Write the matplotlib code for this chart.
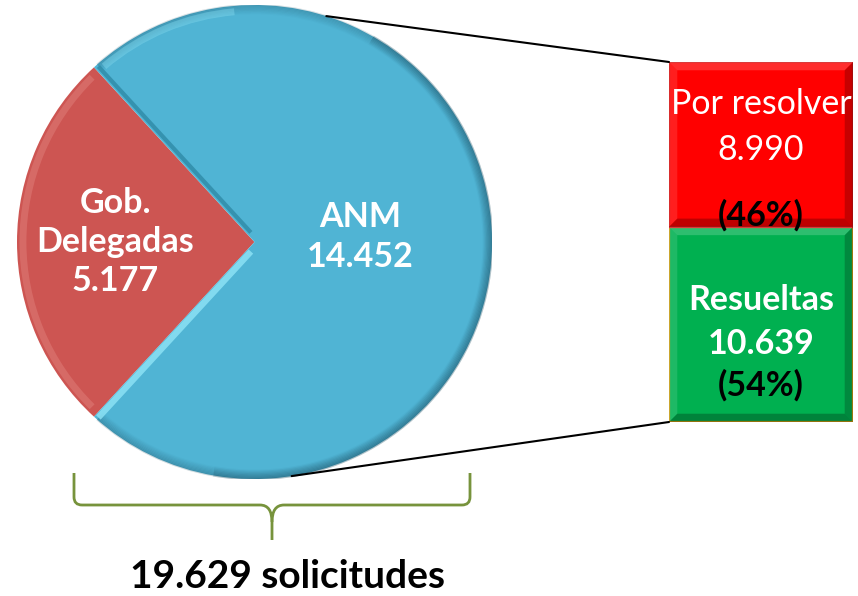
import numpy as np
import matplotlib
matplotlib.use("Agg")
import matplotlib.pyplot as plt
from matplotlib.patches import Arc, PathPatch, ConnectionPatch, Polygon
from matplotlib.path import Path

# ---------------- data ----------------
pie_labels = ["Gob.\nDelegadas", "ANM"]
pie_values = [5177, 14452]
pie_texts = ["5.177", "14.452"]

bar_labels = ["Resueltas", "Por resolver"]
bar_values = [10639, 8990]
bar_texts = ["10.639", "8.990"]
bar_pcts = ["(54%)", "(46%)"]

total_label = "19.629 solicitudes"

# ---------------- style ----------------
plt.rcParams["font.family"] = ["Lato", "DejaVu Sans"]
pie_colors = ["#CD5552", "#50B4D4"]
bar_colors = ["#00B050", "#FF0000"]
bar_edges = ["#C39A12", "#D41010"]
brace_color = "#77933C"

W, H = 858, 596
fig = plt.figure(figsize=(W / 100, H / 100), dpi=100)
fig.patch.set_facecolor("white")


def fr(l, t, r, b):
    return [l / W, 1 - b / H, (r - l) / W, (b - t) / H]


# overlay axes in pixel coords (brace + total label)
ax_bg = fig.add_axes([0, 0, 1, 1])
ax_bg.set_xlim(0, W)
ax_bg.set_ylim(H, 0)
ax_bg.axis("off")

# ---------------- pie ----------------
ax_pie = fig.add_axes(fr(17, 5, 492, 479))
tot = sum(pie_values)
start = 180 - pie_values[0] / tot * 180
wedges, _ = ax_pie.pie(pie_values, colors=pie_colors, startangle=start,
                       counterclock=True, radius=1,
                       wedgeprops=dict(linewidth=0))
ax_pie.set_xlim(-1, 1)
ax_pie.set_ylim(-1, 1)
ax_pie.set_aspect("auto")
ax_pie.axis("off")

t1, t2 = wedges[0].theta1, wedges[0].theta2  # red wedge angles
# bevel effects on blue slice edges
for ang, col, off, lw in [(t1, "#2F8AA6", -1, 3.0), (t2, "#8FE4F6", 1, 4.5)]:
    a = np.deg2rad(ang)
    n = np.deg2rad(ang + off * 90)
    d = 0.016
    ax_pie.plot([0.04 * np.cos(a) + d * np.cos(n), 0.99 * np.cos(a) + d * np.cos(n)],
                [0.04 * np.sin(a) + d * np.sin(n), 0.99 * np.sin(a) + d * np.sin(n)],
                color=col, lw=lw, solid_capstyle="butt", alpha=0.8)
# outer rim shading
for k in range(8):
    r = 1 - k * 0.005
    ax_pie.add_patch(Arc((0, 0), 2 * r, 2 * r, theta1=-100, theta2=60,
                         color="#1B4F63", lw=1.6, alpha=0.35 * (1 - k / 8)))
    ax_pie.add_patch(Arc((0, 0), 2 * r, 2 * r, theta1=60, theta2=t1 - 1,
                         color="#1B4F63", lw=1.4, alpha=0.18 * (1 - k / 8)))
    ax_pie.add_patch(Arc((0, 0), 2 * r, 2 * r, theta1=t2 + 1, theta2=260,
                         color="#1B4F63", lw=1.4, alpha=0.22 * (1 - k / 8)))
ax_pie.add_patch(Arc((0, 0), 2 * 0.975, 2 * 0.975, theta1=95, theta2=t1 - 2,
                     color="#8FE4F6", lw=5, alpha=0.35))
ax_pie.add_patch(Arc((0, 0), 2 * 0.975, 2 * 0.975, theta1=t1 + 2, theta2=t2 - 2,
                     color="#E58A85", lw=5, alpha=0.4))

ax_pie.text(-0.587, 0.0, pie_labels[0] + "\n" + pie_texts[0], color="white",
            fontsize=24.5, fontweight="bold", ha="center", va="center",
            linespacing=1.28)
ax_pie.text(0.445, 0.02, pie_labels[1] + "\n" + pie_texts[1], color="white",
            fontsize=24.5, fontweight="bold", ha="center", va="center",
            linespacing=1.32)

# ---------------- bar ----------------
ax_bar = fig.add_axes(fr(669, 62, 853, 422))
bottoms = [0, bar_values[0]]
ax_bar.bar([0, 0], bar_values, bottom=bottoms, width=1, color=bar_colors,
           edgecolor=bar_edges, linewidth=1.6, align="center")
ax_bar.set_xlim(-0.5, 0.5)
ax_bar.set_ylim(0, sum(bar_values))
ax_bar.axis("off")

# bevels
bw = 0.045
for b, v in zip(bottoms, bar_values):
    dy = bw * sum(bar_values) * (184 / 360)
    top = b + v
    ax_bar.add_patch(Polygon([(-0.5, top), (0.5, top), (0.5 - bw, top - dy), (-0.5 + bw, top - dy)],
                             closed=True, color="white", alpha=0.18, lw=0))
    ax_bar.add_patch(Polygon([(-0.5, b), (-0.5, top), (-0.5 + bw, top - dy), (-0.5 + bw, b + dy)],
                             closed=True, color="white", alpha=0.12, lw=0))
    ax_bar.add_patch(Polygon([(0.5, b), (0.5, top), (0.5 - bw, top - dy), (0.5 - bw, b + dy)],
                             closed=True, color="black", alpha=0.22, lw=0))
    ax_bar.add_patch(Polygon([(-0.5, b), (0.5, b), (0.5 - bw, b + dy), (-0.5 + bw, b + dy)],
                             closed=True, color="black", alpha=0.25, lw=0))

tr = ax_bar.transAxes
ax_bar.text(0.5, 0.883, bar_labels[1], transform=tr, color="white", fontsize=24.5,
            ha="center", va="center", clip_on=False)
ax_bar.text(0.5, 0.756, bar_texts[1], transform=tr, color="white", fontsize=24.5,
            ha="center", va="center")
ax_bar.text(0.5, 0.575, bar_pcts[1], transform=tr, color="black", fontsize=24.5,
            fontweight="bold", ha="center", va="center")
ax_bar.text(0.5, 0.339, bar_labels[0], transform=tr, color="white", fontsize=24.5,
            fontweight="bold", ha="center", va="center")
ax_bar.text(0.5, 0.217, bar_texts[0], transform=tr, color="white", fontsize=24.5,
            fontweight="bold", ha="center", va="center")
ax_bar.text(0.5, 0.103, bar_pcts[0], transform=tr, color="black", fontsize=24.5,
            fontweight="bold", ha="center", va="center")

# ---------------- connectors ----------------
for ang, yb in [(72.4, sum(bar_values)), (-81.0, 0)]:
    a = np.deg2rad(ang)
    con = ConnectionPatch(xyA=(np.cos(a), np.sin(a)), coordsA=ax_pie.transData,
                          xyB=(-0.5, yb), coordsB=ax_bar.transData,
                          color="black", lw=1.5)
    fig.add_artist(con)

# ---------------- brace ----------------
cx = 272
left = [(74, 473), (74, 497), (74, 505), (82, 505), (260, 505), (cx, 505), (cx, 522), (cx, 540)]
codes_l = [Path.MOVETO, Path.LINETO, Path.CURVE3, Path.CURVE3, Path.LINETO,
           Path.CURVE3, Path.CURVE3, Path.LINETO]
right = [(470, 473), (470, 497), (470, 505), (462, 505), (284, 505), (cx, 505), (cx, 522)]
codes_r = codes_l[:-1]
for pts, cds in [(left, codes_l), (right, codes_r)]:
    ax_bg.add_patch(PathPatch(Path(pts, cds), facecolor="none",
                              edgecolor=brace_color, lw=2.0))

ax_bg.text(287, 577, total_label, color="black", fontsize=28, fontweight="bold",
           ha="center", va="center")

fig.savefig("out.png", dpi=100, facecolor="white")
